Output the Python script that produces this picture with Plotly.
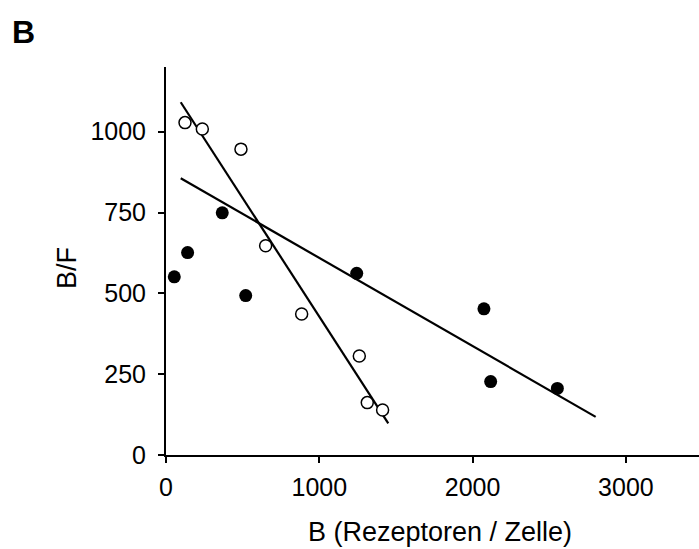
import plotly.graph_objects as go

# Data
open_x = [124, 237, 489, 650, 885, 1261, 1313, 1413]
open_y = [1028, 1008, 946, 647, 436, 306, 162, 139]

filled_x = [54, 141, 367, 520, 1244, 2074, 2118, 2553]
filled_y = [551, 626, 749, 493, 562, 452, 227, 206]

# Regression line end points
steep_x = [96, 1450]
steep_y = [1091, 98]
shallow_x = [96, 2803]
shallow_y = [856, 118]

x_ticks = [0, 1000, 2000, 3000]
y_ticks = [0, 250, 500, 750, 1000]

x_title = "B (Rezeptoren / Zelle)"
y_title = "B/F"
panel_label = "B"

FONT = "Liberation Sans, Arial, sans-serif"
TICK_FS = 25
TITLE_FS = 27

fig = go.Figure()
fig.add_trace(go.Scatter(x=steep_x, y=steep_y, mode="lines",
                         line=dict(color="black", width=2.2), showlegend=False))
fig.add_trace(go.Scatter(x=shallow_x, y=shallow_y, mode="lines",
                         line=dict(color="black", width=2.2), showlegend=False))
fig.add_trace(go.Scatter(x=open_x, y=open_y, mode="markers",
                         marker=dict(symbol="circle", size=12, color="white",
                                     line=dict(color="black", width=1.5)),
                         showlegend=False))
fig.add_trace(go.Scatter(x=filled_x, y=filled_y, mode="markers",
                         marker=dict(symbol="circle", size=13, color="black",
                                     line=dict(width=0)),
                         showlegend=False))

fig.update_layout(
    width=699, height=549,
    margin=dict(l=166, r=0, t=67, b=94),
    plot_bgcolor="white", paper_bgcolor="white",
    font=dict(family=FONT, size=TICK_FS, color="black"),
    xaxis=dict(range=[0, 3477], tickvals=x_ticks, ticktext=[str(v) for v in x_ticks],
               showgrid=False, zeroline=False, showline=True, linecolor="black",
               linewidth=2, ticks="outside", ticklen=6, tickwidth=1.5, tickcolor="black",
               ticklabelstandoff=3,
               tickfont=dict(size=TICK_FS)),
    yaxis=dict(range=[0, 1200], tickvals=y_ticks, ticktext=[str(v) for v in y_ticks],
               showgrid=False, zeroline=False, showline=True, linecolor="black",
               linewidth=2, ticks="outside", ticklen=6, tickwidth=1.5, tickcolor="black",
               ticklabelstandoff=7,
               tickfont=dict(size=TICK_FS)),
    annotations=[
        dict(text="<b>" + panel_label + "</b>", xref="paper", yref="paper",
             x=-156 / 533, y=1 + (67 - 32) / 388,
             xanchor="left", yanchor="middle",
             showarrow=False, font=dict(size=32, family=FONT)),
        dict(text=x_title, xref="paper", yref="paper",
             x=(440 - 166) / 533, y=(455 - 532) / 388,
             xanchor="center", yanchor="middle",
             showarrow=False, font=dict(size=TITLE_FS, family=FONT)),
        dict(text=y_title, xref="paper", yref="paper", textangle=-90,
             x=(67 - 166) / 533, y=(455 - 268) / 388,
             xanchor="center", yanchor="middle",
             showarrow=False, font=dict(size=TITLE_FS, family=FONT)),
    ],
)

fig.write_html("out.html")
